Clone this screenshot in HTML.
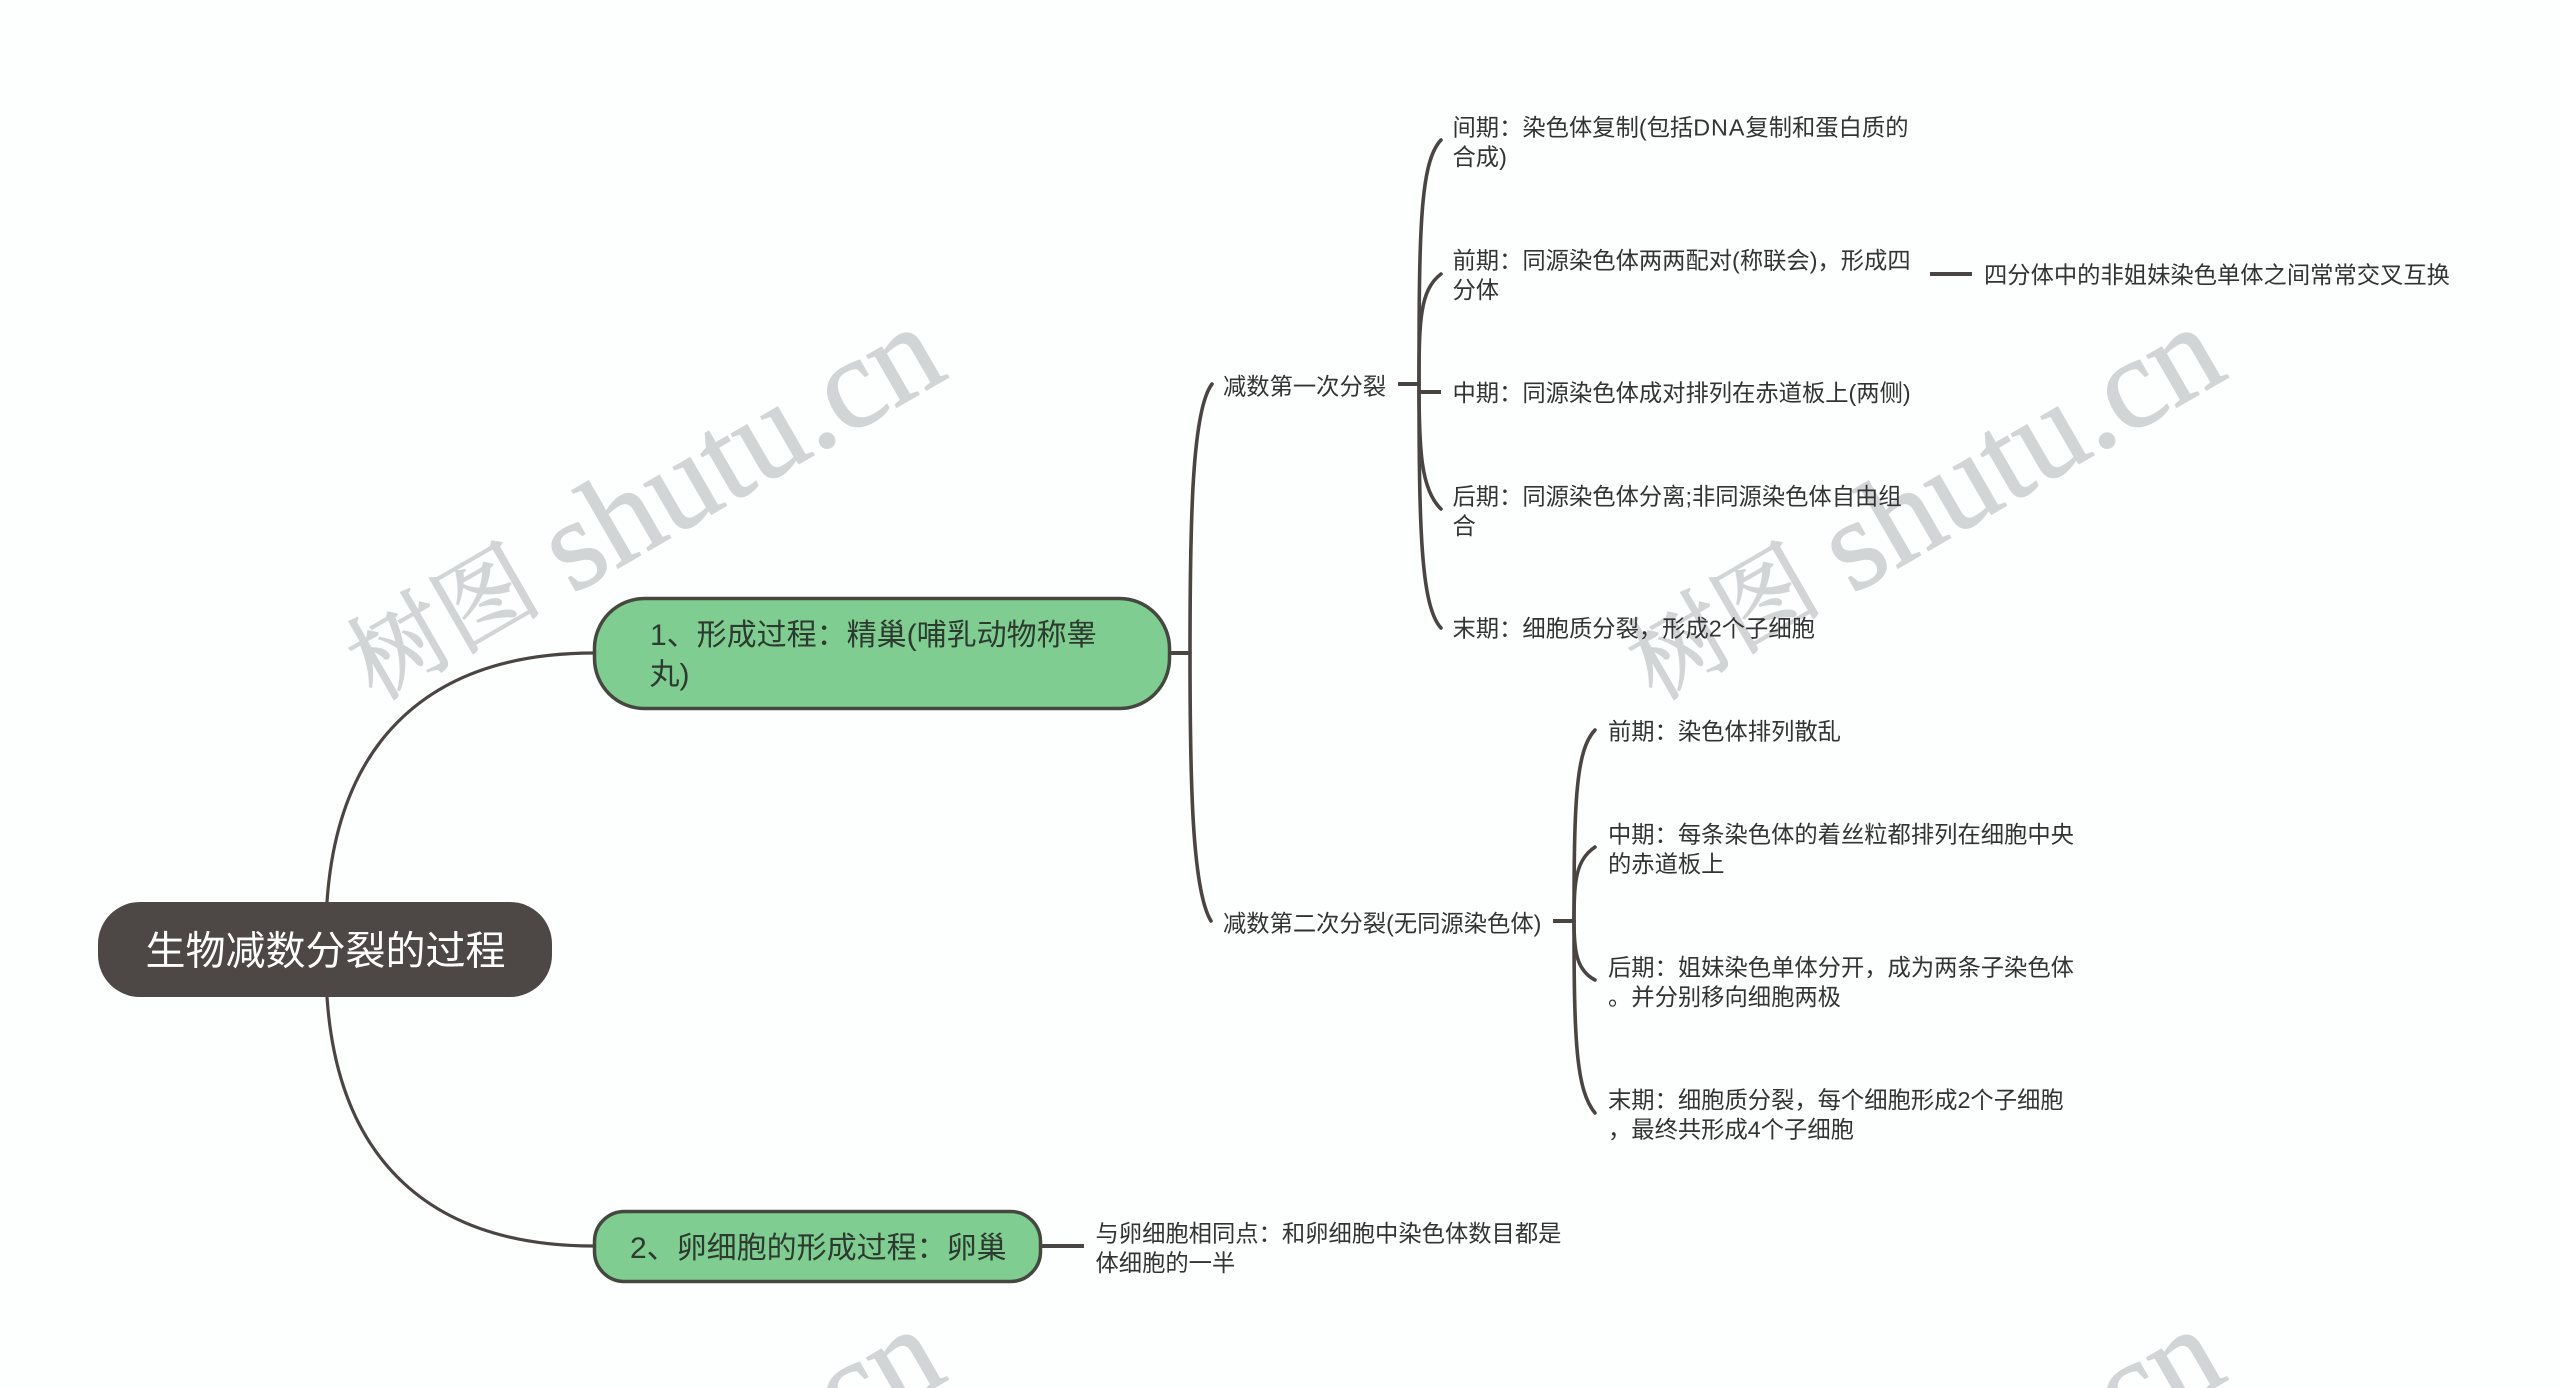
<!DOCTYPE html>
<html lang="zh">
<head>
<meta charset="utf-8">
<title>生物减数分裂的过程</title>
<style>
html,body{margin:0;padding:0;width:2560px;height:1388px;overflow:hidden;background:#fcfffe}
svg{display:block;overflow:hidden}
.wm{font-family:"Liberation Serif","Noto Serif CJK SC",serif;fill:#d1d5d6;stroke:#d1d5d6;stroke-width:1.3}
.t{font-family:"Liberation Sans","Noto Sans CJK SC",sans-serif;font-size:23.3px;fill:#333}
.n{font-family:"Liberation Sans","Noto Sans CJK SC",sans-serif;font-size:30px;fill:#2c3a2f}
.r{font-family:"Liberation Sans","Noto Sans CJK SC",sans-serif;font-size:40px;fill:#fff}
.l{fill:none;stroke:#4a4543;stroke-width:3.6;stroke-linecap:round}
.m{fill:none;stroke:#4a4543;stroke-width:3.2;stroke-linecap:round}
.s{fill:none;stroke:#4a4543;stroke-width:4}
</style>
</head>
<body>
<svg xmlns="http://www.w3.org/2000/svg" width="2560" height="1388" viewBox="0 0 2560 1388">
<rect width="2560" height="1388" fill="#fcfffe"/>
<text class="wm" transform="translate(375 701.5) rotate(-30)"><tspan font-size="98" font-family="'Noto Serif CJK SC',serif">树图</tspan><tspan x="224" y="6" font-size="130">shutu.cn</tspan></text>
<text class="wm" transform="translate(1655 701.5) rotate(-30)"><tspan font-size="98" font-family="'Noto Serif CJK SC',serif">树图</tspan><tspan x="224" y="6" font-size="130">shutu.cn</tspan></text>
<text class="wm" font-size="130" transform="translate(375 1703.5) rotate(-30)" x="538" y="6">cn</text>
<text class="wm" font-size="130" transform="translate(1655 1703.5) rotate(-30)" x="538" y="6">cn</text>

<!-- root connectors -->
<path class="m" d="M327 902C338 740 430 653 594 653"/>
<path class="m" d="M327 997C338 1160 430 1246 594 1246"/>

<!-- node 1 branches -->
<path class="s" d="M1169 653H1190"/>
<path class="l" d="M1190 653C1190 520 1192 410 1212 384"/>
<path class="l" d="M1190 653C1190 780 1192 890 1211 921"/>

<!-- first division -->
<path class="s" d="M1398 384H1419"/>
<path class="l" d="M1419 384C1419 230 1420 162 1441 140"/>
<path class="l" d="M1419 384C1419 320 1420 290 1441 274"/>
<path class="s" d="M1419 392H1441"/>
<path class="l" d="M1419 384C1419 450 1421 490 1441 509"/>
<path class="l" d="M1419 384C1419 530 1421 606 1441 628"/>
<path class="s" d="M1930 274H1972"/>

<!-- second division -->
<path class="s" d="M1553 921H1574"/>
<path class="l" d="M1574 921C1574 800 1576 750 1595 730"/>
<path class="l" d="M1574 921C1574 880 1576 860 1595 847"/>
<path class="l" d="M1574 921C1574 950 1576 970 1595 980"/>
<path class="l" d="M1574 921C1574 1040 1576 1090 1595 1113"/>

<!-- node 2 branch -->
<path class="s" d="M1041 1246H1084"/>

<!-- nodes -->
<rect x="98" y="902" width="454" height="95" rx="42" fill="#4d4746"/>
<text class="r" x="145.5" y="964.5">生物减数分裂的过程</text>

<rect x="594.5" y="598.5" width="575" height="110" rx="50" fill="#80cd92" stroke="#45483f" stroke-width="3.5"/>
<text class="n" x="650" y="645">1、形成过程：精巢(哺乳动物称睾</text>
<text class="n" x="649.5" y="684.5">丸)</text>

<rect x="594.5" y="1211.5" width="446" height="70" rx="30" fill="#80cd92" stroke="#45483f" stroke-width="3.5"/>
<text class="n" x="630" y="1258">2、卵细胞的形成过程：卵巢</text>

<!-- labels -->
<text class="t" x="1223" y="394.5">减数第一次分裂</text>
<text class="t" x="1223" y="931.5">减数第二次分裂(无同源染色体)</text>

<text class="t" x="1452.5" y="135.5">间期：染色体复制(包括<tspan letter-spacing="1">DNA</tspan>复制和蛋白质的</text>
<text class="t" x="1452.5" y="165">合成)</text>
<text class="t" x="1452.5" y="268.5">前期：同源染色体两两配对(称联会)，形成四</text>
<text class="t" x="1452.5" y="298">分体</text>
<text class="t" x="1452.5" y="401">中期：同源染色体成对排列在赤道板上(两侧)</text>
<text class="t" x="1452.5" y="504.5">后期：同源染色体分离;非同源染色体自由组</text>
<text class="t" x="1452.5" y="534">合</text>
<text class="t" x="1452.5" y="636.5">末期：细胞质分裂，形成2个子细胞</text>
<text class="t" x="1984" y="283">四分体中的非姐妹染色单体之间常常交叉互换</text>

<text class="t" x="1608" y="739.5">前期：染色体排列散乱</text>
<text class="t" x="1608" y="842.5">中期：每条染色体的着丝粒都排列在细胞中央</text>
<text class="t" x="1608" y="872">的赤道板上</text>
<text class="t" x="1608" y="975.5">后期：姐妹染色单体分开，成为两条子染色体</text>
<text class="t" x="1608" y="1005">。并分别移向细胞两极</text>
<text class="t" x="1608" y="1108">末期：细胞质分裂，每个细胞形成2个子细胞</text>
<text class="t" x="1608" y="1137.5">，最终共形成4个子细胞</text>

<text class="t" x="1095.5" y="1241.5">与卵细胞相同点：和卵细胞中染色体数目都是</text>
<text class="t" x="1095.5" y="1271">体细胞的一半</text>
</svg>
</body>
</html>
